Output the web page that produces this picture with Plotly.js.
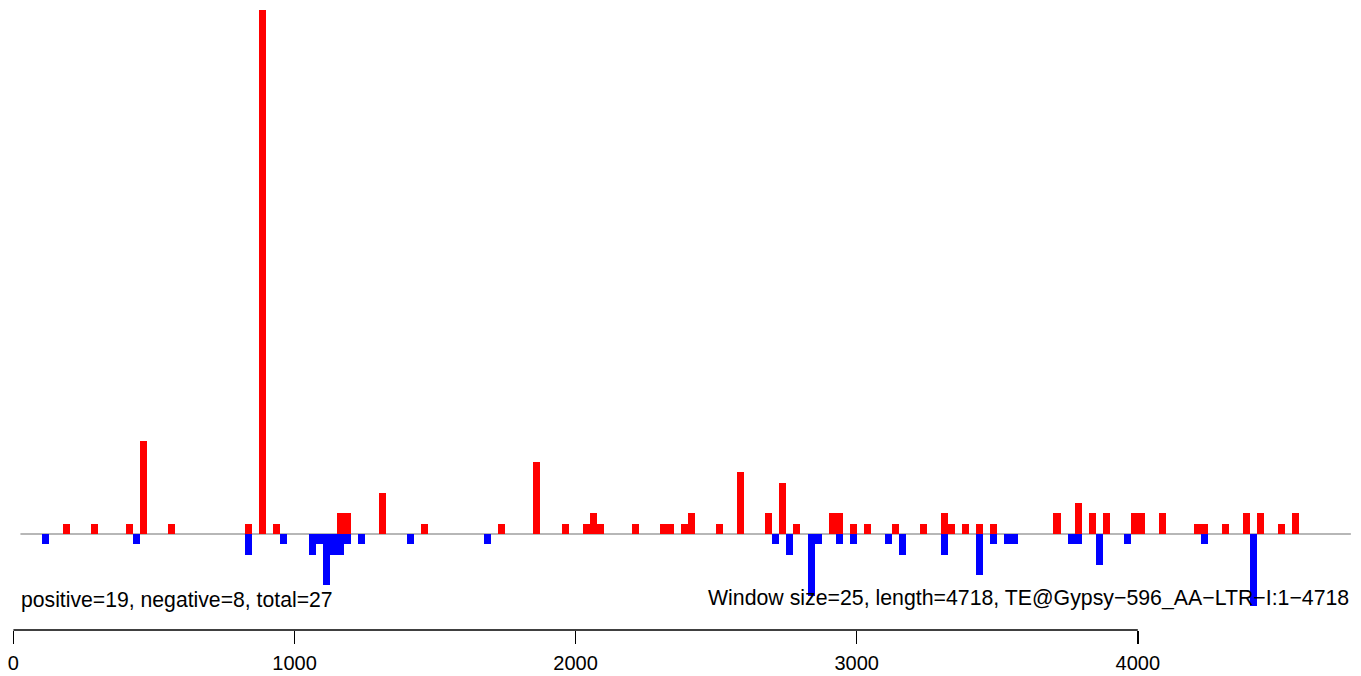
<!DOCTYPE html>
<html>
<head>
<meta charset="utf-8">
<script src="https://cdn.plot.ly/plotly-3.0.1.min.js"></script>
<style>html,body{margin:0;padding:0;background:#fff;}#chart{width:1361px;height:676px;}</style>
</head>
<body>
<div id="chart"></div>
<script>
// Window starts (bp) and counts, window size 25
const windowSize = 25;
const posStart = [175,275,400,450,550,825,875,925,1150,1175,1300,1450,1725,1850,1950,2025,2050,2075,2200,2300,2325,2375,2400,2500,2575,2675,2725,2775,2900,2925,2975,3025,3125,3225,3300,3325,3375,3425,3475,3700,3775,3825,3875,3975,4000,4075,4200,4225,4300,4375,4425,4500,4550];
const posVal = [1,1,1,9,1,1,51,1,2,2,4,1,1,7,1,1,2,1,1,1,1,1,2,1,6,2,5,1,2,2,1,1,1,1,2,1,1,1,1,2,3,2,2,2,2,2,1,1,1,2,2,1,2];
const negStart = [100,425,825,950,1050,1075,1100,1125,1150,1175,1225,1400,1675,2700,2750,2825,2850,2925,2975,3100,3150,3300,3425,3475,3525,3550,3750,3775,3850,3950,4225,4400];
const negVal = [-1,-1,-2,-1,-2,-1,-5,-2,-2,-1,-1,-1,-1,-1,-2,-6,-1,-1,-1,-1,-2,-2,-4,-1,-1,-1,-1,-1,-3,-1,-1,-7];
const tickVals = [0,1000,2000,3000,4000];
const tickText = ['0','1000','2000','3000','4000'];
const leftLabel = 'positive=19, negative=8, total=27';
const rightLabel = 'Window size=25, length=4718, TE@Gypsy\u2212596_AA\u2212LTR\u2212I:1\u22124718';

const FONT = 'Liberation Sans, Arial, Helvetica, sans-serif';

const traces = [
  {type:'bar', x:posStart, y:posVal, width:windowSize, offset:0,
   marker:{color:'#FF0000', line:{width:0}}, hoverinfo:'x+y', showlegend:false},
  {type:'bar', x:negStart, y:negVal, width:windowSize, offset:0,
   marker:{color:'#0000FF', line:{width:0}}, hoverinfo:'x+y', showlegend:false}
];

const layout = {
  width:1361, height:676,
  margin:{l:0, r:0, t:0, b:46, pad:0},
  paper_bgcolor:'#ffffff', plot_bgcolor:'#ffffff',
  barmode:'overlay', bargap:0,
  font:{family:FONT, size:20, color:'#000'},
  xaxis:{range:[-47.7, 4794], showgrid:false, zeroline:false, showline:false,
    tickmode:'array', tickvals:tickVals, ticktext:tickText,
    ticks:'outside', ticklen:13, tickwidth:1.5, tickcolor:'#000',
    tickfont:{family:FONT, size:20, color:'#000'}, ticklabelstandoff:2, fixedrange:true},
  yaxis:{range:[-9.34, 51.95], showgrid:false, zeroline:false, showline:false,
    showticklabels:false, ticks:'', fixedrange:true},
  shapes:[
    {type:'line', xref:'x', yref:'y', x0:25, x1:4758, y0:0, y1:0,
     line:{color:'#707070', width:1.2}, layer:'below'},
    {type:'line', xref:'x', yref:'paper', x0:tickVals[0], x1:tickVals[tickVals.length-1], y0:0, y1:0,
     line:{color:'#000', width:1.5}}
  ],
  annotations:[
    {xref:'paper', yref:'paper', x:19/1361, y:30/630, xanchor:'left', yanchor:'middle',
     text:leftLabel, showarrow:false, font:{family:FONT, size:21.2, color:'#000'}},
    {xref:'paper', yref:'paper', x:1351/1361, y:32/630, xanchor:'right', yanchor:'middle',
     text:rightLabel, showarrow:false, font:{family:FONT, size:21.3, color:'#000'}}
  ]
};

Plotly.newPlot('chart', traces, layout, {displayModeBar:false, staticPlot:true});
</script>
</body>
</html>
